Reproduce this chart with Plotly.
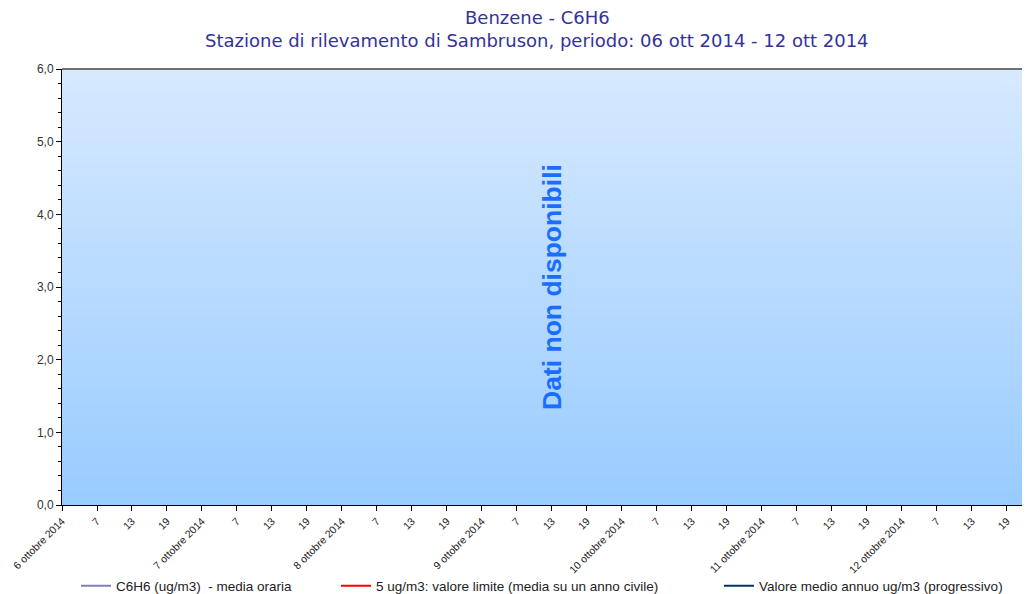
import plotly.graph_objects as go

# --- data ---
days = ["6 ottobre 2014", "7 ottobre 2014", "8 ottobre 2014", "9 ottobre 2014",
        "10 ottobre 2014", "11 ottobre 2014", "12 ottobre 2014"]
hour_labels = ["7", "13", "19"]
series_names = ["C6H6 (ug/m3)  - media oraria",
                "5 ug/m3: valore limite (media su un anno civile)",
                "Valore medio annuo ug/m3 (progressivo)"]
series_colors = ["#8080c0", "#ff0000", "#003366"]
# no data available: one missing value per series
series_x = [[0], [0], [0]]
series_y = [[None], [None], [None]]
y_ticks = [0, 1, 2, 3, 4, 5, 6]
y_ticktext = ["0,0", "1,0", "2,0", "3,0", "4,0", "5,0", "6,0"]
title_lines = ["Benzene - C6H6",
               "Stazione di rilevamento di Sambruson, periodo: 06 ott 2014 - 12 ott 2014"]
no_data_text = "Dati non disponibili"

tickvals, ticktext = [], []
for d, day in enumerate(days):
    tickvals.append(d * 4)
    ticktext.append(day)
    for h, lab in enumerate(hour_labels):
        tickvals.append(d * 4 + h + 1)
        ticktext.append(lab)

# page offset (browser body margin) compensation
OFF = 8
W, H = 1030, 594
L = 62 - OFF
T = 69 - OFF
R = OFF
B = H - (505 - OFF)
pw, ph = W - L - R, H - T - B


def px_x(x):
    return (x - OFF - L) / pw


def px_y(y):
    return (H - B - (y - OFF)) / ph


legend_ids = ["legend", "legend2", "legend3"]
legend_px = [76, 336, 719]

fig = go.Figure()
for name, col, xs, ys, lid in zip(series_names, series_colors, series_x, series_y, legend_ids):
    fig.add_trace(go.Scatter(x=xs, y=ys, mode="lines", name=name, showlegend=True,
                             legend=lid, line=dict(color=col, width=2)))

# gradient background bands
top = (214, 233, 255)
bot = (153, 204, 255)
n = 60
shapes = []
for i in range(n):
    t = i / (n - 1)
    c = tuple(round(bot[k] + (top[k] - bot[k]) * t) for k in range(3))
    shapes.append(dict(type="rect", xref="paper", yref="paper", x0=0, x1=1,
                       y0=i / n, y1=min(1, (i + 1) / n + 0.002), layer="below",
                       line=dict(width=0), fillcolor="rgb(%d,%d,%d)" % c))
# top border
shapes.append(dict(type="line", xref="paper", yref="paper", x0=0, x1=1, y0=1, y1=1,
                   line=dict(color="#707070", width=2)))

tfont = dict(family="DejaVu Sans", size=18, color="#333399")
annotations = [
    dict(text=title_lines[0], x=px_x(537), y=px_y(18)),
    dict(text=title_lines[1], x=px_x(537), y=px_y(40)),
]
for a in annotations:
    a.update(xref="paper", yref="paper", showarrow=False, font=tfont,
             xanchor="center", yanchor="middle", borderpad=0)
annotations.append(dict(text="<b>%s</b>" % no_data_text, x=14, y=3, xref="x", yref="y",
                        showarrow=False, textangle=-90,
                        font=dict(family="Liberation Sans, Arial", size=26.5, color="#1a6eff")))

leg_common = dict(orientation="h", xanchor="left", y=px_y(586), yanchor="middle",
                  font=dict(family="Liberation Sans, Arial", size=13.5, color="#222222"),
                  bgcolor="rgba(0,0,0,0)")
legends = {lid: dict(leg_common, x=px_x(xp)) for lid, xp in zip(legend_ids, legend_px)}

fig.update_layout(
    width=W, height=H,
    margin=dict(l=L, r=R, t=T, b=B, autoexpand=False),
    paper_bgcolor="white", plot_bgcolor="rgba(0,0,0,0)",
    shapes=shapes,
    showlegend=True,
    annotations=annotations,
    **legends,
)
fig.update_xaxes(range=[0, 27.66], tickmode="array", tickvals=tickvals, ticktext=ticktext,
                 tickangle=-45, ticks="outside", ticklen=5, tickcolor="black", automargin=False,
                 showline=True, linecolor="black", linewidth=1, showgrid=False, zeroline=False,
                 tickfont=dict(family="Liberation Sans", size=10.5, color="#222222"))
fig.update_yaxes(range=[0, 6], tickmode="array", tickvals=y_ticks, ticktext=y_ticktext,
                 ticks="outside", ticklen=5, tickcolor="black", automargin=False,
                 minor=dict(dtick=0.2, ticks="outside", ticklen=3, tickcolor="black"),
                 showline=True, linecolor="black", linewidth=1, showgrid=False, zeroline=False,
                 tickfont=dict(family="Liberation Sans, Arial", size=12, color="#333333"))
fig.write_html("out.html")
